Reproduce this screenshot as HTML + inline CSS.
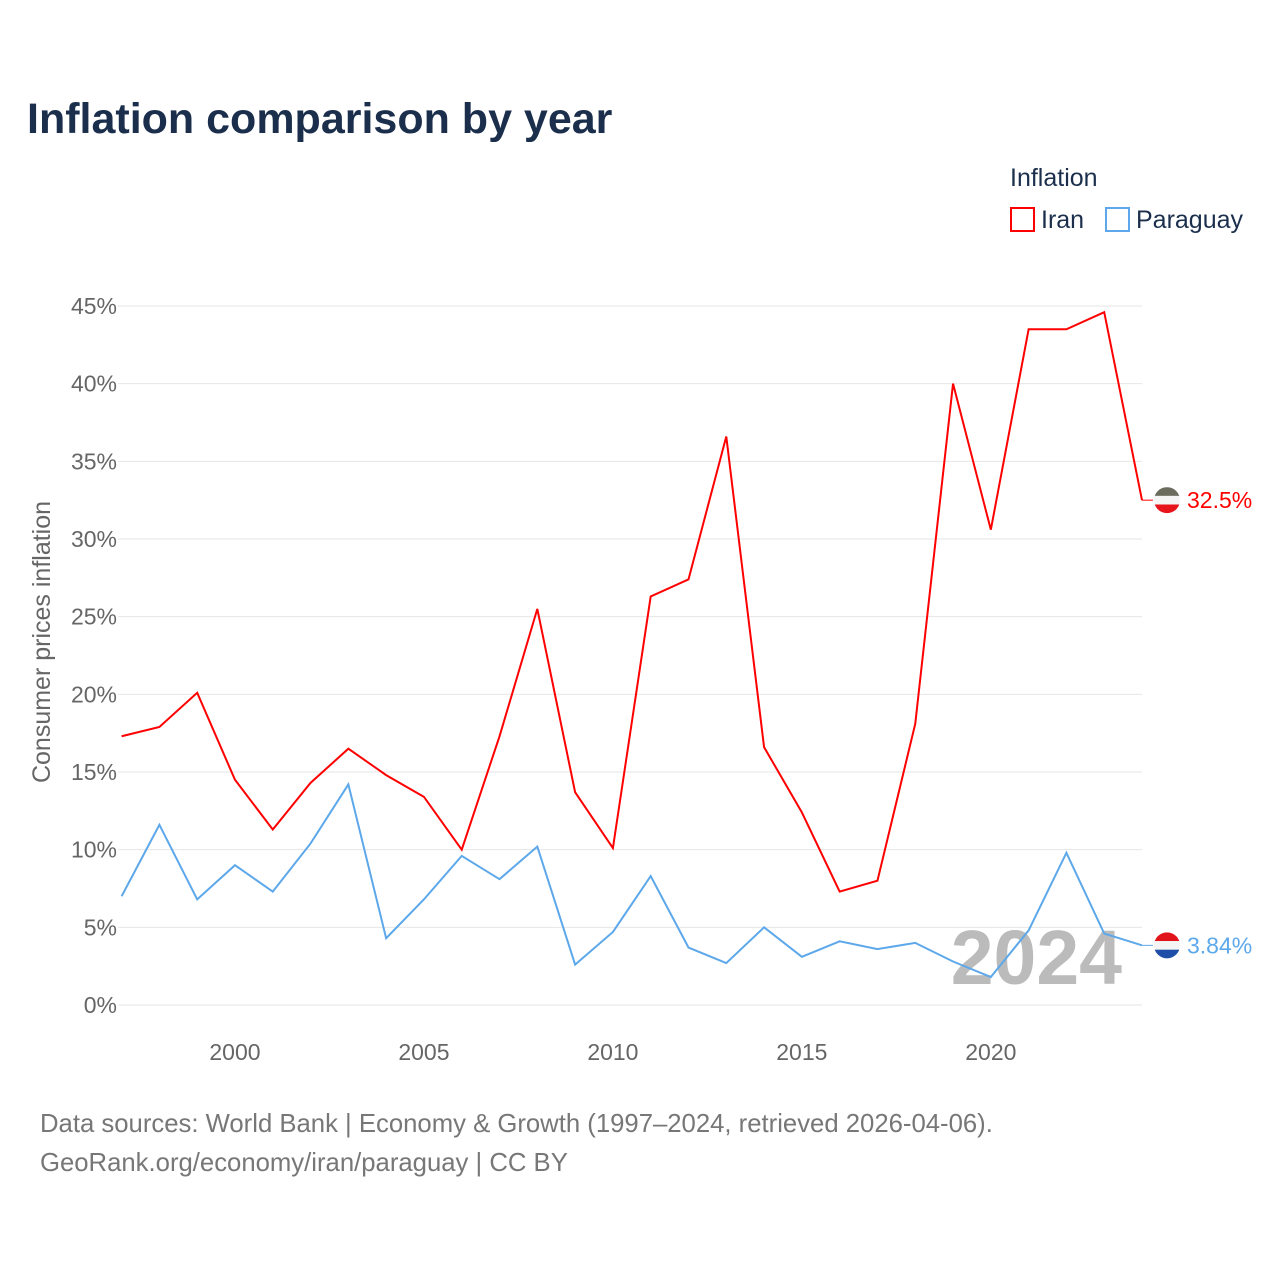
<!DOCTYPE html>
<html><head><meta charset="utf-8">
<style>
body{margin:0;background:#fff;font-family:"Liberation Sans",sans-serif;}
svg text{font-family:"Liberation Sans",sans-serif;}
</style></head>
<body>
<svg width="1280" height="1280" xmlns="http://www.w3.org/2000/svg" id="chart">
<text x="27" y="133" font-size="43" font-weight="bold" fill="#1b2f4d">Inflation comparison by year</text>
<text x="1010" y="186" font-size="25" fill="#1b2f4d">Inflation</text>
<g><rect x="1011" y="208" width="23" height="23" fill="none" stroke="#f00" stroke-width="2"/><text x="1041" y="228" font-size="25" fill="#1b2f4d">Iran</text></g>
<g><rect x="1106" y="208" width="23" height="23" fill="none" stroke="#5da8ea" stroke-width="2"/><text x="1136" y="228" font-size="25" fill="#1b2f4d">Paraguay</text></g>
<g id="grid"></g>
<g id="yticks"></g>
<g id="xticks"></g>
<text transform="translate(50,642) rotate(-90)" text-anchor="middle" font-size="25" fill="#666">Consumer prices inflation</text>
<text x="1122" y="984" text-anchor="end" font-size="77" font-weight="bold" fill="#bbb">2024</text>
<defs>
<clipPath id="c1"><circle cx="1167" cy="0" r="13"/></clipPath>
</defs>
<g id="series"></g>
<text x="40" y="1132" font-size="25.7" fill="#777">Data sources: World Bank | Economy &amp; Growth (1997–2024, retrieved 2026-04-06).</text>
<text x="40" y="1171" font-size="25.7" fill="#777">GeoRank.org/economy/iran/paraguay | CC BY</text>
</svg>
<script>
const years=[1997,1998,1999,2000,2001,2002,2003,2004,2005,2006,2007,2008,2009,2010,2011,2012,2013,2014,2015,2016,2017,2018,2019,2020,2021,2022,2023,2024];
const iranValues=[17.3,17.9,20.1,14.5,11.3,14.3,16.5,14.8,13.4,10.0,17.3,25.5,13.7,10.1,26.3,27.4,36.6,16.6,12.4,7.3,8.0,18.1,40.0,30.6,43.5,43.5,44.6,32.5];
const paraguayValues=[7.0,11.6,6.8,9.0,7.3,10.4,14.2,4.3,6.8,9.6,8.1,10.2,2.6,4.7,8.3,3.7,2.7,5.0,3.1,4.1,3.6,4.0,2.8,1.8,4.8,9.8,4.6,3.84];
const yTicks=[0,5,10,15,20,25,30,35,40,45];
const xTicks=[2000,2005,2010,2015,2020];
const NS="http://www.w3.org/2000/svg";
const x=v=>121.6+(v-1997)*(1142-121.6)/27;
const y=v=>1005-v*(1005-306)/45;
function mk(tag,attrs,parent){const e=document.createElementNS(NS,tag);for(const k in attrs)e.setAttribute(k,attrs[k]);parent.appendChild(e);return e;}
const grid=document.getElementById('grid'),yt=document.getElementById('yticks'),xt=document.getElementById('xticks'),ser=document.getElementById('series');
yTicks.forEach(t=>{
  const l=mk('line',{x1:118,x2:1142,y1:y(t),y2:y(t),stroke:'#e6e6e6','stroke-width':1},grid);
  
  
  const tx=mk('text',{x:117,y:y(t)+8,'text-anchor':'end','font-size':23,fill:'#666'},yt);tx.textContent=t+'%';
  
  
});
xTicks.forEach(t=>{
  const tx=mk('text',{x:x(t),y:1060,'text-anchor':'middle','font-size':23,fill:'#666'},xt);tx.textContent=t;
  
  
});
function line(vals,color,name,label,bands){
  const p=mk('polyline',{points:vals.map((v,i)=>x(years[i])+','+y(v)).join(' '),fill:'none',stroke:color,'stroke-width':2},ser);
  
  
  const last=vals[vals.length-1],ly=y(last);
  mk('line',{x1:1142,x2:1153,y1:ly,y2:ly,stroke:color,'stroke-width':1},ser);
  const g=mk('g',{transform:'translate(0,'+ly+')','clip-path':'url(#c1)'},ser);
  
  
  bands.forEach((b,i)=>mk('rect',{x:1154,y:-13+i*26/3,width:26,height:26/3+0.5,fill:b},g));
  const t=mk('text',{x:1187,y:ly+8,'font-size':23,fill:color},ser);t.textContent=label;
  
  
}
line(iranValues,'#f00','iran-line',iranValues[iranValues.length-1]+'%',['#6b6b5e','#f4f4f4','#e8141c']);
line(paraguayValues,'#5da8ea','paraguay-line',paraguayValues[paraguayValues.length-1]+'%',['#e2141b','#f4f4f4','#1f4ea8']);
</script>
</body></html>
